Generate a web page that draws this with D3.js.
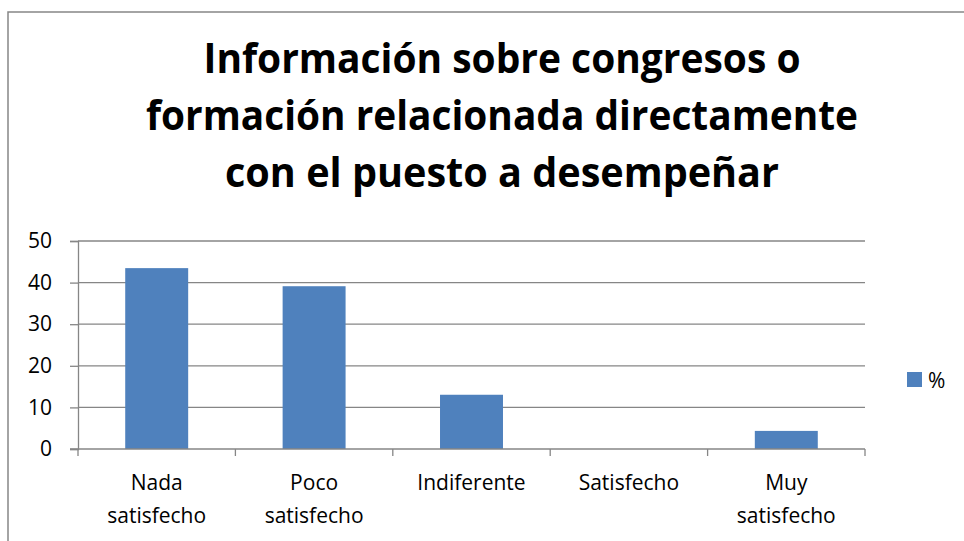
<!DOCTYPE html>
<html>
<head>
<meta charset="utf-8">
<script src="https://cdn.jsdelivr.net/npm/d3@7"></script>
<style>
  html, body { margin: 0; padding: 0; background: #fff; }
  svg { display: block; }
  text { font-family: "Open Sans", "Liberation Sans", sans-serif; fill: #000; }
</style>
</head>
<body>
<svg id="chart" width="964" height="541"></svg>
<script>
const categories = [['Nada', 'satisfecho'], ['Poco', 'satisfecho'], ['Indiferente'], ['Satisfecho'], ['Muy', 'satisfecho']];
const values = [43.48, 39.13, 13.04, 0, 4.35];
const yTicks = [0, 10, 20, 30, 40, 50];
const titleLines = ['Información sobre congresos o', 'formación relacionada directamente', 'con el puesto a desempeñar'];
const seriesName = '%';

const svg = d3.select('#chart');
const grey = '#868686';
const barColor = '#4f81bd';

// outer chart frame (runs off right/bottom edges)
svg.append('rect')
  .attr('x', 8).attr('y', 12)
  .attr('width', 980).attr('height', 560)
  .attr('fill', 'none')
  .attr('stroke', grey)
  .attr('stroke-width', 1.5);

// title: Calibri is narrow, so squeeze each line to the reference width
const titleY = [73, 130, 187];
const titleW = [597, 712, 554];
svg.append('g')
  .selectAll('text')
  .data(titleLines)
  .join('text')
  .attr('x', 502)
  .attr('y', (d, i) => titleY[i])
  .attr('text-anchor', 'middle')
  .attr('font-weight', 'bold')
  .attr('font-size', 41)
  .attr('textLength', (d, i) => titleW[i])
  .attr('lengthAdjust', 'spacingAndGlyphs')
  .text((d) => d);

const plot = { left: 78, right: 865, top: 241, bottom: 449 };

const x = d3.scaleBand()
  .domain(d3.range(categories.length))
  .range([plot.left, plot.right])
  .paddingInner(0.6)
  .paddingOuter(0.3);

const y = d3.scaleLinear()
  .domain([0, 50])
  .range([plot.bottom, plot.top]);

// gridlines
svg.append('g')
  .selectAll('line')
  .data(yTicks.filter((t) => t > 0))
  .join('line')
  .attr('x1', plot.left).attr('x2', plot.right)
  .attr('y1', (d) => y(d)).attr('y2', (d) => y(d))
  .attr('stroke', grey)
  .attr('stroke-width', 1.3);

// bars
svg.append('g')
  .selectAll('rect')
  .data(values)
  .join('rect')
  .attr('x', (d, i) => x(i))
  .attr('y', (d) => y(d))
  .attr('width', x.bandwidth())
  .attr('height', (d) => plot.bottom - y(d))
  .attr('fill', barColor);

// y axis
const yAxis = svg.append('g')
  .attr('transform', `translate(${plot.left},0)`)
  .call(d3.axisLeft(y).tickValues(yTicks).tickSize(8).tickPadding(18));
yAxis.select('.domain').attr('stroke', grey).attr('stroke-width', 1.3);
yAxis.selectAll('.tick line').attr('stroke', grey).attr('stroke-width', 1.3);
yAxis.selectAll('.tick text')
  .attr('font-size', 21)
  .attr('font-family', '"Open Sans", sans-serif')
  .attr('fill', '#000');

// x axis: line plus ticks at category boundaries
const bounds = d3.range(categories.length + 1).map((i) => plot.left + i * (plot.right - plot.left) / categories.length);
const xAxis = svg.append('g');
xAxis.append('line')
  .attr('x1', plot.left - 8).attr('x2', plot.right)
  .attr('y1', plot.bottom).attr('y2', plot.bottom)
  .attr('stroke', grey).attr('stroke-width', 1.3);
xAxis.selectAll('line.tk')
  .data(bounds)
  .join('line')
  .attr('class', 'tk')
  .attr('x1', (d) => d).attr('x2', (d) => d)
  .attr('y1', plot.bottom).attr('y2', plot.bottom + 7)
  .attr('stroke', grey).attr('stroke-width', 1.3);

const labels = xAxis.selectAll('text')
  .data(categories)
  .join('text')
  .attr('text-anchor', 'middle')
  .attr('font-size', 21)
  .attr('x', (d, i) => x(i) + x.bandwidth() / 2)
  .attr('y', 490);
labels.selectAll('tspan')
  .data((d) => d)
  .join('tspan')
  .attr('x', function () { return d3.select(this.parentNode).attr('x'); })
  .attr('dy', (d, i) => (i === 0 ? 0 : 33))
  .text((d) => d);

// legend
const legend = svg.append('g');
legend.append('rect')
  .attr('x', 907).attr('y', 372)
  .attr('width', 15).attr('height', 15)
  .attr('fill', barColor);
legend.append('text')
  .attr('x', 928).attr('y', 388)
  .attr('font-size', 21)
  .text(seriesName);
</script>
</body>
</html>
